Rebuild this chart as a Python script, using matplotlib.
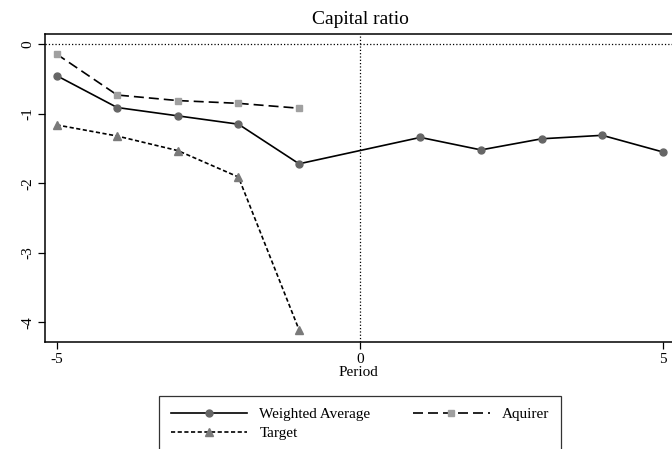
import matplotlib
matplotlib.use("Agg")
import matplotlib.pyplot as plt

plt.rcParams['font.family'] = ['Liberation Serif', 'DejaVu Serif']

# data
periods_avg = [-5, -4, -3, -2, -1, 1, 2, 3, 4, 5]
weighted_avg = [-0.45, -0.91, -1.03, -1.15, -1.72, -1.34, -1.52, -1.36, -1.31, -1.55]
periods_pre = [-5, -4, -3, -2, -1]
aquirer = [-0.14, -0.73, -0.81, -0.85, -0.92]
target = [-1.16, -1.32, -1.53, -1.91, -4.11]

fig = plt.figure(figsize=(6.72, 4.49), dpi=100)
ax = fig.add_axes([45/672, 1 - 341.7/449, 1 - 45/672, (341.7 - 34)/449])

ax.axhline(0, color='black', linestyle=':', linewidth=0.9)
ax.axvline(0, color='black', linestyle=':', linewidth=0.9)

l_avg, = ax.plot(periods_avg, weighted_avg, color='black', linewidth=1.2,
                 marker='o', markersize=5, markerfacecolor='#666666', markeredgecolor='#666666',
                 label='Weighted Average')
l_aq, = ax.plot(periods_pre, aquirer, color='black', linewidth=1.2, linestyle=(0, (6, 3)),
                marker='s', markersize=5, markerfacecolor='#a0a0a0', markeredgecolor='#a0a0a0',
                label='Aquirer')
l_tg, = ax.plot(periods_pre, target, color='black', linewidth=1.2, linestyle=(0, (2.5, 1.5)),
                marker='^', markersize=5.5, markerfacecolor='#7a7a7a', markeredgecolor='#7a7a7a',
                label='Target')

ax.set_xlim(-5.19, 5.15)
ax.set_ylim(-4.28, 0.148)
ax.set_xticks([-5, 0, 5])
ax.set_xticklabels(['-5', '0', '5'])
ax.set_yticks([0, -1, -2, -3, -4])
ax.set_yticklabels(['0', '-1', '-2', '-3', '-4'], rotation=90, va='center')
ax.tick_params(direction='out', length=5, width=0.9, labelsize=11, pad=3)
ax.spines['right'].set_visible(False)
for s in ['left', 'bottom', 'top']:
    ax.spines[s].set_linewidth(1.1)

ax.set_xlabel('Period', fontsize=11, labelpad=0)

fig.text(360/672, 1 - 20/449, 'Capital ratio', ha='center', va='center', fontsize=14)

# column-first fill: weighted + target in col 1, aquirer in col 2
leg = fig.legend([l_avg, l_tg, l_aq], ['Weighted Average', 'Target', 'Aquirer'],
                 loc='upper center', bbox_to_anchor=(360/672, 1 - 396/449), ncol=2,
                 borderaxespad=0, fontsize=11, frameon=True, fancybox=False,
                 edgecolor='black', handlelength=5, columnspacing=2.8,
                 borderpad=0.75, labelspacing=0.35)
leg.get_frame().set_linewidth(0.9)

fig.savefig('out.png', dpi=100)
